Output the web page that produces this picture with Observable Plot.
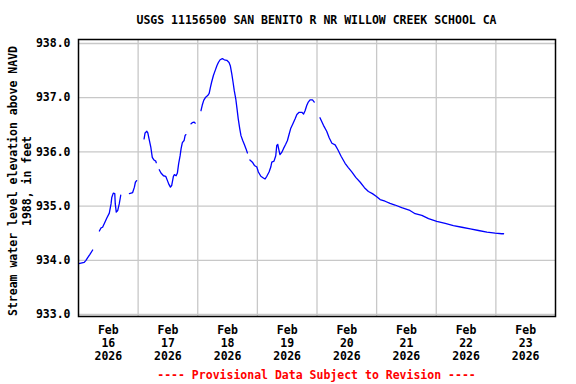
<!DOCTYPE html>
<html><head><meta charset="utf-8">
<script src="https://cdn.jsdelivr.net/npm/d3@7"></script>
<script src="https://cdn.jsdelivr.net/npm/@observablehq/plot@0.6"></script>
<style>
body{margin:0;background:#fff;width:576px;height:384px;overflow:hidden;font-family:"DejaVu Sans Mono",monospace;font-weight:bold;}
#title{height:35px;line-height:41px;margin-left:78px;width:477px;text-align:center;font-size:11.5px;color:#000;white-space:nowrap;}
#foot{height:18px;line-height:18px;margin-left:78px;width:477px;text-align:center;font-size:11.5px;color:#ff0000;white-space:nowrap;}
svg{display:block;}
</style></head>
<body>
<div id="title"></div>
<div id="chart"></div>
<div id="foot"></div>
<script>
const titleText = "USGS 11156500 SAN BENITO R NR WILLOW CREEK SCHOOL CA";
const footText = "---- Provisional Data Subject to Revision ----";
const yLabel = "Stream water level elevation above NAVD\n1988, in feet";
const dayLabels = ["16","17","18","19","20","21","22","23"];
const gridDays = [17,18,19,20,21,22,23];
const yTicks = [933,934,935,936,937,938];
// hours since 2026-02-16 00:00; null level marks a gap in the record
const hours = [
 0.1,2.3,3.0,3.7,4.6,5.7, 7,
 8.4,9.1,9.7,10.4,11.4,12.4,13.1,13.4,14.0,14.6,14.8,15.2,15.8,16.4,17.0, 18,
 20.5,21.8,22.5,22.9,23.4, 25,
 26.4,26.8,27.5,27.9,28.4,29.1,29.7,30.4,31.1,31.3, 31.8,
 32.5,33.2,34.2,35.1,35.8,36.4,37.0,37.5,38.2,38.6,39.3,39.8,40.3,40.9,41.3,41.8,42.5,42.9,43.2, 44,
 45.3,45.8,46.5,47.0, 48,
 49.3,49.8,50.4,51.2,52.0,52.6,53.1,53.6,54.3,55.0,55.7,56.3,57.0,57.9,58.7,59.7,60.6,61.1,61.7,62.2,62.7,63.3,63.8,64.3,64.9,65.4,66.1,66.8,67.4,68.0, 68.5,
 69.0,70.0,70.8,71.8,72.4,73.4,74.4,75.1,75.8,76.7,77.4,77.8,78.7,79.4,79.8,80.2,80.7,81.1,81.8,82.5,83.4,84.1,84.8,85.4,86.3,87.2,87.9,88.8,89.9,90.6,91.2,91.9,92.5,93.2,94.2,94.9, 96,
 97.2,98.6,99.9,100.9,102.0,103.3,104.4,105.7,107.3,108.6,110.0,111.6,113.4,115.1,116.7,118.3,119.8,121.4,123.4,125.4,127.4,130.1,133.4,135.5,138.2,140.9,144.2,147.6,150.9,154.3,157.7,161.0,164.4,167.7,170.4,171.1
];
const level = [
 933.94,933.96,934.00,934.05,934.11,934.19, null,
 934.54,934.60,934.61,934.68,934.78,934.87,935.04,935.16,935.24,935.23,935.04,934.89,934.92,935.04,935.20, null,
 935.23,935.25,935.35,935.44,935.47, null,
 936.24,936.35,936.38,936.35,936.24,936.09,935.90,935.85,935.83,935.80, null,
 935.67,935.61,935.56,935.55,935.47,935.40,935.35,935.38,935.55,935.58,935.56,935.61,935.78,935.93,936.06,936.17,936.21,936.30,936.32, null,
 936.52,936.54,936.55,936.53, null,
 936.76,936.86,936.95,937.01,937.04,937.08,937.19,937.29,937.41,937.50,937.59,937.65,937.70,937.72,937.70,937.69,937.65,937.59,937.44,937.29,937.13,936.98,936.80,936.61,936.43,936.30,936.21,936.13,936.06,935.98, null,
 935.85,935.81,935.75,935.72,935.63,935.55,935.52,935.50,935.55,935.63,935.72,935.81,935.83,935.93,936.12,936.14,936.03,935.95,935.99,936.06,936.14,936.21,936.33,936.43,936.52,936.61,936.69,936.73,936.73,936.70,936.76,936.86,936.92,936.96,936.96,936.92, null,
 936.63,936.49,936.38,936.26,936.16,936.13,936.04,935.92,935.79,935.71,935.63,935.53,935.44,935.34,935.27,935.23,935.18,935.12,935.09,935.05,935.02,934.97,934.92,934.86,934.83,934.77,934.72,934.68,934.64,934.61,934.58,934.55,934.52,934.50,934.49,934.49
];

document.getElementById("title").textContent = titleText;
document.getElementById("foot").textContent = footText;

const start = Date.UTC(2026,1,16);
const data = hours.map((h,i) => ({t: new Date(start + h*3600e3), v: level[i]}));
const labelTicks = dayLabels.map(d => new Date(Date.UTC(2026,1,+d,12)));
const gridTicks = gridDays.map(d => new Date(Date.UTC(2026,1,d)));
const gridStyle = {stroke:"#c8c8c8", strokeOpacity:1, strokeWidth:1.3};

const chart = Plot.plot({
  width:576, height:331,
  marginTop:4, marginBottom:50, marginLeft:78, marginRight:21,
  style:{fontFamily:"DejaVu Sans Mono, monospace", fontSize:"11.5px", fontWeight:"bold", color:"#000", background:"#fff"},
  x:{type:"utc", domain:[new Date(start), new Date(Date.UTC(2026,1,24))]},
  y:{domain:[932.963, 938.074]},
  marks:[
    Plot.gridX(gridTicks, gridStyle),
    Plot.gridY(yTicks, gridStyle),
    Plot.line(data, {x:"t", y:"v", stroke:"#0000ff", strokeWidth:1.3}),
    Plot.axisY(yTicks, {tickSize:0, tickPadding:8, tickFormat:d3.format(".1f"), label:null, fill:"#000"}),
    Plot.axisX(labelTicks, {tickSize:0, tickPadding:8, label:null, fill:"#000", lineHeight:1.13,
      tickFormat:(d) => `Feb\n${dayLabels[labelTicks.findIndex(t => +t === +d)]}\n2026`}),
    Plot.frame({stroke:"#000", strokeWidth:1.5}),
    Plot.text([yLabel], {frameAnchor:"left", text:d => d, rotate:-90, dx:-59, dy:3, lineHeight:1.22, fill:"#000", textAnchor:"middle", lineAnchor:"middle"})
  ]
});
document.getElementById("chart").append(chart);
</script>
</body></html>
